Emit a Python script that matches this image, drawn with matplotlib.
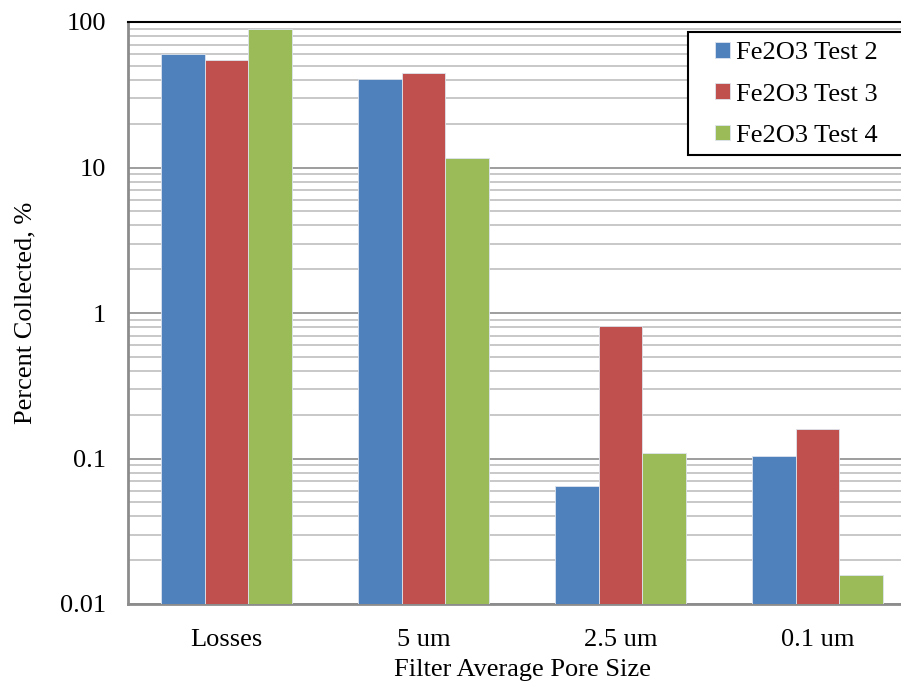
import numpy as np
import matplotlib.pyplot as plt
from matplotlib.patches import Rectangle
from matplotlib.ticker import LogLocator, NullFormatter, FixedLocator

plt.rcParams['font.family'] = ['Liberation Serif', 'DejaVu Serif']

categories = ["Losses", "5 um", "2.5 um", "0.1 um"]
series_names = ["Fe2O3 Test 2", "Fe2O3 Test 3", "Fe2O3 Test 4"]
test2 = [60.0, 40.5, 0.065, 0.104]
test3 = [55.0, 44.5, 0.81, 0.16]
test4 = [89.0, 11.6, 0.109, 0.0158]
colors = ["#4F81BD", "#C0504D", "#9BBB59"]
fs = 19
W, H = 901, 685

fig = plt.figure(figsize=(9.01, 6.85), dpi=100)
ax = fig.add_axes([128 / W, 1 - 604 / H, 788 / W, 582 / H])

x = np.arange(len(categories))
width = 0.223
for i, (vals, name) in enumerate(zip([test2, test3, test4], series_names)):
    ax.bar(x + (i - 1) * width, vals, width, color=colors[i], label=name,
           edgecolor="#dde4ee", linewidth=0.6, zorder=3)

ax.set_yscale("log")
ax.set_ylim(0.01, 100)
ax.set_xlim(-0.5, 3.5)
ax.yaxis.set_major_locator(FixedLocator([0.01, 0.1, 1, 10, 100]))
ax.set_yticklabels(["0.01", "0.1", "1", "10", "100"])
ax.yaxis.set_minor_locator(LogLocator(base=10, subs=np.arange(2, 10)))
ax.yaxis.set_minor_formatter(NullFormatter())
ax.grid(True, which="major", axis="y", color="#8c8c8c", linewidth=1.2, zorder=0)
ax.grid(True, which="minor", axis="y", color="#bfbfbf", linewidth=1.2, zorder=0)

ax.set_xticks(x)
ax.set_xticklabels(categories)
ax.tick_params(axis="both", which="both", length=0, labelsize=fs)
ax.tick_params(axis="y", pad=16)
ax.tick_params(axis="x", pad=18)

for side in ["left", "bottom"]:
    ax.spines[side].set_color("#8c8c8c")
    ax.spines[side].set_linewidth(2)
ax.spines["top"].set_color("black")
ax.spines["top"].set_linewidth(1.5)
ax.spines["right"].set_visible(False)

ax.set_xlabel("Filter Average Pore Size", fontsize=fs, labelpad=6)
ax.set_ylabel("Percent Collected, %", fontsize=fs, labelpad=17)

# legend box runs past the right edge of the figure
box = Rectangle((688 / W, 1 - 155 / H), 240 / W, 123 / H,
                transform=fig.transFigure, facecolor="white",
                edgecolor="black", linewidth=1.5, clip_on=False, zorder=4)
ax.add_patch(box)

leg = ax.legend(loc="upper left", bbox_to_anchor=(715 / W, 1 - 42 / H),
                bbox_transform=fig.transFigure, fontsize=fs, frameon=False,
                handlelength=0.55, handleheight=0.55, handletextpad=0.25,
                labelspacing=0.72, borderpad=0, borderaxespad=0)
leg.set_zorder(5)

fig.savefig("out.png", dpi=100)
